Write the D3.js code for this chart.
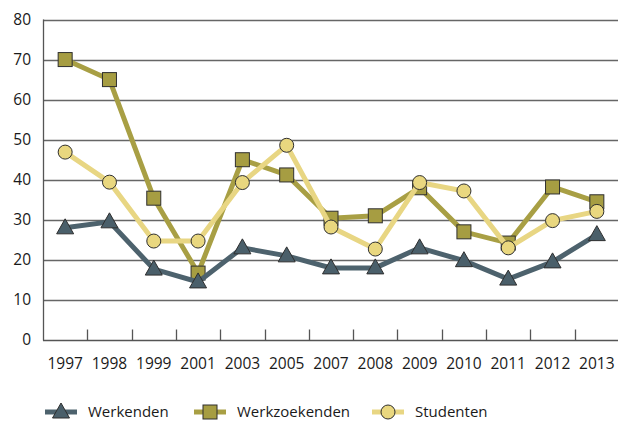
<!DOCTYPE html>
<html>
<head>
<meta charset="utf-8">
<script src="https://cdn.jsdelivr.net/npm/d3@7"></script>
<style>
  body { margin: 0; background: white; }
  svg { display: block; font-family: "Open Sans", "Noto Sans", sans-serif; }
</style>
</head>
<body>
<div id="chart"></div>
<script>
// Data
const years = ["1997", "1998", "1999", "2001", "2003", "2005", "2007", "2008", "2009", "2010", "2011", "2012", "2013"];
const werkenden = [28, 29.5, 17.7, 14.5, 23, 21, 18, 18, 23, 19.8, 15.2, 19.5, 26.3];
const werkzoekenden = [70, 65, 35.4, 16.7, 45, 41.2, 30.4, 31, 38, 27, 24.2, 38.2, 34.5];
const studenten = [46.9, 39.4, 24.7, 24.7, 39.3, 48.6, 28.2, 22.7, 39.3, 37.2, 23, 29.8, 32.1];
const yTicks = [0, 10, 20, 30, 40, 50, 60, 70, 80];

const series = [
    { name: "Werkzoekenden", values: werkzoekenden, color: "#a89f44", fill: "#a69d42", shape: "square" },
    { name: "Studenten", values: studenten, color: "#e8d683", fill: "#e9d77f", shape: "circle" },
    { name: "Werkenden", values: werkenden, color: "#4d626d", fill: "#4a5f6a", shape: "triangle" }
];
const legendOrder = ["Werkenden", "Werkzoekenden", "Studenten"];

let width = 618, height = 423;
let margin = { top: 19.5, bottom: 83, left: 43, right: -1 };

let svg = d3.select("#chart")
    .append("svg")
    .attr("width", width)
    .attr("height", height)
    .style("background", "white");

let x = d3.scaleBand()
    .domain(years)
    .range([margin.left, width - margin.right]);

let y = d3.scaleLinear()
    .domain([0, 80])
    .range([height - margin.bottom, margin.top]);

// Gridlines
svg.append("g")
    .selectAll("line")
    .data(yTicks.filter(d => d > 0))
    .enter()
    .append("line")
    .attr("x1", margin.left)
    .attr("x2", width)
    .attr("y1", d => Math.round(y(d)) + 0.5)
    .attr("y2", d => Math.round(y(d)) + 0.5)
    .attr("stroke", "#666")
    .attr("stroke-width", 1.3);

// Y axis labels
svg.append("g")
    .selectAll("text")
    .data(yTicks)
    .enter()
    .append("text")
    .attr("x", 31)
    .attr("y", d => y(d))
    .attr("dy", "0.35em")
    .attr("text-anchor", "end")
    .style("font-size", "15.5px")
    .style("fill", "#1a1a1a")
    .text(d => d);

// Axis lines
let y0 = Math.round(y(0)) + 0.5;
svg.append("line")
    .attr("x1", margin.left).attr("x2", width)
    .attr("y1", y0).attr("y2", y0)
    .attr("stroke", "#555").attr("stroke-width", 1.3);
svg.append("line")
    .attr("x1", margin.left + 0.5).attr("x2", margin.left + 0.5)
    .attr("y1", y(80)).attr("y2", y0)
    .attr("stroke", "#555").attr("stroke-width", 1.3);

// Category boundary ticks
svg.append("g")
    .selectAll("line")
    .data(years.slice(1))
    .enter()
    .append("line")
    .attr("x1", d => Math.round(x(d)) + 0.5)
    .attr("x2", d => Math.round(x(d)) + 0.5)
    .attr("y1", y0 - 11)
    .attr("y2", y0)
    .attr("stroke", "#555")
    .attr("stroke-width", 1.3);

// X labels
svg.append("g")
    .selectAll("text")
    .data(years)
    .enter()
    .append("text")
    .attr("x", d => x(d) + x.bandwidth() / 2)
    .attr("y", 369)
    .attr("text-anchor", "middle")
    .style("font-size", "15.5px")
    .style("fill", "#1a1a1a")
    .text(d => d);

// Marker drawing
function drawMarker(g, shape, fill, cx, cy) {
    if (shape === "square") {
        g.append("rect")
            .attr("x", cx - 7).attr("y", cy - 7)
            .attr("width", 14).attr("height", 14)
            .attr("fill", fill).attr("stroke", "#2f2f2f").attr("stroke-width", 1);
    } else if (shape === "circle") {
        g.append("circle")
            .attr("cx", cx).attr("cy", cy).attr("r", 7)
            .attr("fill", fill).attr("stroke", "#2f2f2f").attr("stroke-width", 1);
    } else {
        g.append("path")
            .attr("d", `M${cx},${cy - 9}L${cx + 8.5},${cy + 6}L${cx - 8.5},${cy + 6}Z`)
            .attr("fill", fill).attr("stroke", "#2f2f2f").attr("stroke-width", 1);
    }
}

let line = d3.line()
    .x((d, i) => x(years[i]) + x.bandwidth() / 2)
    .y(d => y(d));

series.forEach(s => {
    svg.append("path")
        .datum(s.values)
        .attr("fill", "none")
        .attr("stroke", s.color)
        .attr("stroke-width", 5)
        .attr("stroke-linejoin", "miter")
        .attr("d", line);
    let g = svg.append("g");
    s.values.forEach((v, i) => {
        drawMarker(g, s.shape, s.fill, x(years[i]) + x.bandwidth() / 2, y(v));
    });
});

// Legend
let legendX = [45, 194, 372];
legendOrder.forEach((name, i) => {
    let s = series.find(d => d.name === name);
    let lx = legendX[i], ly = 412;
    svg.append("line")
        .attr("x1", lx).attr("x2", lx + 32)
        .attr("y1", ly).attr("y2", ly)
        .attr("stroke", s.color)
        .attr("stroke-width", 5);
    drawMarker(svg.append("g"), s.shape, s.fill, lx + 16, ly);
    svg.append("text")
        .attr("x", lx + 43)
        .attr("y", ly)
        .attr("dy", "0.35em")
        .style("font-size", "15px")
        .style("fill", "#1a1a1a")
        .text(name);
});
</script>
</body>
</html>
